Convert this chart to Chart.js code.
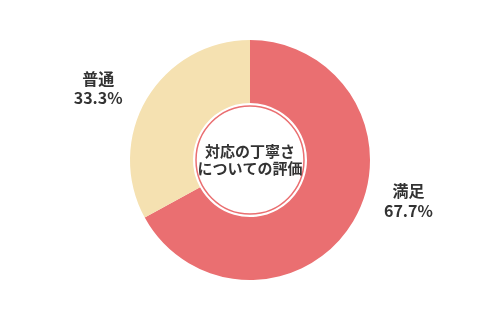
<!DOCTYPE html>
<html lang="ja">
<head>
<meta charset="utf-8">
<script src="https://cdn.jsdelivr.net/npm/chart.js@4"></script>
<style>
  html, body { margin: 0; padding: 0; background: #ffffff; }
  #wrap { width: 500px; height: 321px; position: relative; }
</style>
</head>
<body>
<div id="wrap"><canvas id="chart"></canvas></div>
<script>
// chart data
const categories = ['満足', '普通'];
const values = [67.7, 33.3];
const valueLabels = ['67.7%', '33.3%'];
const centerTitle = ['対応の丁寧さ', 'についての評価'];

const sliceColors = ['#ea6f71', '#f5e1b1'];
const textColor = '#333333';
const fontFamily = '"Noto Sans CJK JP", "Noto Sans", sans-serif';

// label offsets from the doughnut centre, in units of the outer radius
const labelOffsets = [
  { x: 1.32, y: 0.34 },
  { x: -1.265, y: -0.6 }
];

// draws the ring inside the hole, the centre title and the outer labels
const decorations = {
  id: 'decorations',
  afterDatasetsDraw(chart) {
    const ctx = chart.ctx;
    const arc = chart.getDatasetMeta(0).data[0];
    if (!arc) return;
    const { x: cx, y: cy, innerRadius, outerRadius } = arc.getProps(['x', 'y', 'innerRadius', 'outerRadius'], true);

    ctx.save();
    // thin red ring just inside the white hole
    ctx.beginPath();
    ctx.arc(cx, cy, innerRadius - 3, 0, Math.PI * 2);
    ctx.strokeStyle = sliceColors[0];
    ctx.lineWidth = 1.5;
    ctx.stroke();

    ctx.fillStyle = textColor;
    ctx.textAlign = 'center';
    ctx.textBaseline = 'middle';

    // centre title
    ctx.font = 'bold 15px ' + fontFamily;
    const lineGap = 17.5;
    centerTitle.forEach((line, i) => {
      ctx.fillText(line, cx, cy + (i - (centerTitle.length - 1) / 2) * lineGap);
    });

    // outer labels
    ctx.font = 'bold 16px ' + fontFamily;
    categories.forEach((name, i) => {
      const lx = cx + labelOffsets[i].x * outerRadius;
      const ly = cy + labelOffsets[i].y * outerRadius;
      ctx.fillText(name, lx, ly - 9.5);
      ctx.fillText(valueLabels[i], lx, ly + 10);
    });
    ctx.restore();
  }
};

new Chart(document.getElementById('chart'), {
  type: 'doughnut',
  data: {
    labels: categories,
    datasets: [{
      data: values,
      backgroundColor: sliceColors,
      borderWidth: 0,
      hoverOffset: 0
    }]
  },
  options: {
    responsive: true,
    maintainAspectRatio: false,
    animation: false,
    cutout: '47.5%',
    layout: {
      padding: { top: 40, bottom: 41, left: 0, right: 0 }
    },
    plugins: {
      legend: { display: false },
      tooltip: { enabled: false }
    }
  },
  plugins: [decorations]
});
</script>
</body>
</html>
